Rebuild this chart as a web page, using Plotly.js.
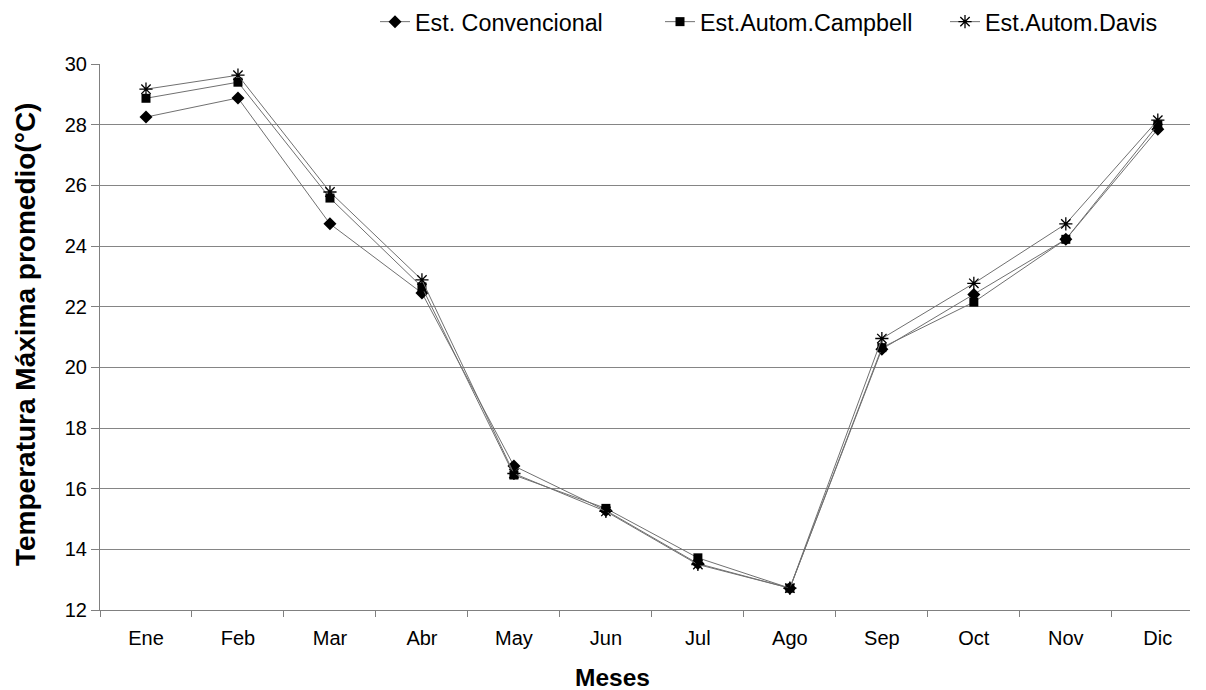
<!DOCTYPE html>
<html>
<head>
<meta charset="utf-8">
<script src="https://cdn.plot.ly/plotly-3.0.1.min.js"></script>
<style>html,body{margin:0;padding:0;background:#fff;}#chart{width:1206px;height:690px;}</style>
</head>
<body>
<div id="chart"></div>
<script>
const months = ["Ene","Feb","Mar","Abr","May","Jun","Jul","Ago","Sep","Oct","Nov","Dic"];
const convencional = [28.25, 28.88, 24.73, 22.45, 16.75, 15.28, 13.53, 12.72, 20.6, 22.4, 24.22, 27.85];
const campbell     = [28.87, 29.40, 25.58, 22.65, 16.45, 15.35, 13.72, 12.72, 20.65, 22.15, 24.22, 28.0];
const davis        = [29.17, 29.63, 25.78, 22.88, 16.5, 15.25, 13.5, 12.72, 20.95, 22.77, 24.73, 28.15];
const seriesNames = ["Est. Convencional", "Est.Autom.Campbell", "Est.Autom.Davis"];
const xTitle = "Meses";
const yTitle = "Temperatura Máxima promedio(°C)";

const lineStyle = {color: '#707070', width: 1};
const traces = [
  {x: months, y: convencional, name: seriesNames[0], mode: 'lines+markers', type: 'scatter',
   line: lineStyle, marker: {symbol: 'diamond', size: 10, color: '#000'}},
  {x: months, y: campbell, name: seriesNames[1], mode: 'lines+markers', type: 'scatter',
   line: lineStyle, marker: {symbol: 'square', size: 9, color: '#000'}},
  {x: months, y: davis, name: seriesNames[2], mode: 'lines+markers', type: 'scatter',
   line: lineStyle, marker: {symbol: 'asterisk-open', size: 11, color: '#000', line: {color: '#000', width: 1.3}}}
];

const layout = {
  width: 1206, height: 690,
  margin: {l: 100, r: 16, t: 64, b: 80, autoexpand: false},
  paper_bgcolor: '#fff', plot_bgcolor: '#fff',
  font: {family: 'Liberation Sans, Arial, sans-serif', size: 20, color: '#000'},
  showlegend: true,
  legend: {orientation: 'h', x: (375 - 100) / 1090, xanchor: 'left', y: 1 + 64 / 546, yanchor: 'top',
           font: {size: 23.3}, entrywidth: 240, entrywidthmode: 'pixels', itemgap: 5,
           bgcolor: 'rgba(0,0,0,0)'},
  xaxis: {
    type: 'category', range: [-0.5, 11.35], showgrid: false, showline: true, linecolor: '#808080', linewidth: 1,
    ticks: 'outside', ticklen: 6, tickcolor: '#808080', tickson: 'boundaries', ticklabelstandoff: 10,
    tickfont: {size: 20}, zeroline: false, automargin: false
  },
  yaxis: {
    range: [12, 30], dtick: 2, tick0: 12, showgrid: true, gridcolor: '#858585', gridwidth: 1,
    showline: true, linecolor: '#808080', linewidth: 1, ticks: 'outside', ticklen: 8, tickcolor: '#808080',
    tickfont: {size: 20}, zeroline: false, automargin: false
  },
  annotations: [
    {text: '<b>' + xTitle + '</b>', xref: 'paper', yref: 'paper', x: (612 - 100) / 1090, y: -(677 - 610) / 546,
     xanchor: 'center', yanchor: 'middle', showarrow: false, font: {size: 24.5}},
    {text: '<b>' + yTitle + '</b>', xref: 'paper', yref: 'paper', x: (25 - 100) / 1090, y: (610 - 335) / 546,
     xanchor: 'center', yanchor: 'middle', showarrow: false, textangle: -90, font: {size: 28}}
  ]
};

Plotly.newPlot('chart', traces, layout, {displayModeBar: false, staticPlot: true});
</script>
</body>
</html>
